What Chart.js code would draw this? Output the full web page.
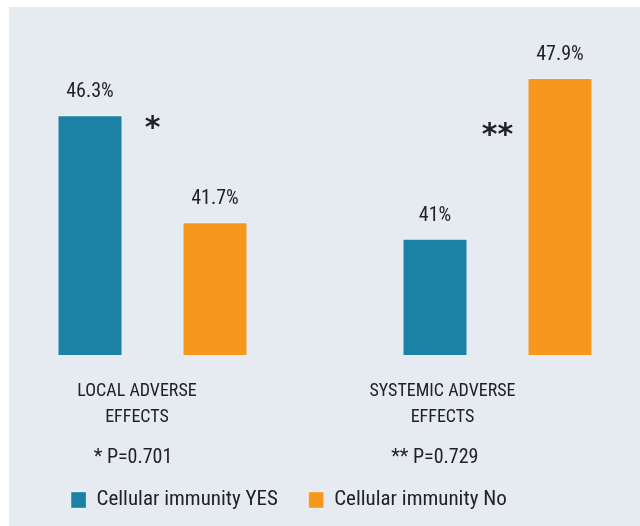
<!DOCTYPE html>
<html><head><meta charset="utf-8">
<script src="https://cdn.jsdelivr.net/npm/chart.js@4"></script>
<style>
html,body{margin:0;padding:0;background:#fff;width:640px;height:526px;overflow:hidden}
#wrap{position:absolute;left:9px;top:7px;width:631px;height:519px;background:#e6eaf1}
canvas{display:block}
</style></head><body>
<div id="wrap"><canvas id="c" width="631" height="519"></canvas></div>
<script>
const categories = [['LOCAL ADVERSE', 'EFFECTS'], ['SYSTEMIC ADVERSE', 'EFFECTS']];
const pValueNotes = ['* P=0.701', '** P=0.729'];
const significanceMarks = ['*', '**'];
const seriesNames = ['Cellular immunity YES', 'Cellular immunity No'];
const immunityYes = [46.3, 41];
const immunityNo = [41.7, 47.9];
const yMin = 36;
const yMax = 50;

const FONT = '"Roboto Condensed", "DejaVu Sans Condensed", sans-serif';
const TEXT = '#222222';

const annotate = {
  id: 'annotate',
  afterDraw(chart) {
    const ctx = chart.ctx;
    const xs = chart.scales.x, ys = chart.scales.y;
    const bottom = chart.chartArea.bottom;
    ctx.save();
    ctx.fillStyle = TEXT;
    ctx.textAlign = 'center';
    ctx.textBaseline = 'middle';
    ctx.font = '20px ' + FONT;
    chart.data.datasets.forEach((ds, di) => {
      chart.getDatasetMeta(di).data.forEach((bar, i) => {
        ctx.fillText(ds.data[i] + '%', bar.x, bar.y - 23);
      });
    });
    const catShift = [-15.5, -55];
    const pShift = [-19.5, -62.7];
    categories.forEach((lines, i) => {
      const cx = xs.getPixelForValue(i);
      ctx.font = '18px ' + FONT;
      lines.forEach((ln, k) => ctx.fillText(ln, cx + catShift[i], bottom + 36 + k * 26));
      ctx.font = '20px ' + FONT;
      ctx.fillText(pValueNotes[i], cx + pShift[i], bottom + 103);
    });
    const markAt = [46.0, 45.7];
    ctx.font = 'bold 30px "DejaVu Sans", sans-serif';
    ctx.textBaseline = 'alphabetic';
    significanceMarks.forEach((m, i) => {
      ctx.fillText(m, xs.getPixelForValue(i), ys.getPixelForValue(markAt[i]) + 15);
    });
    ctx.restore();
  }
};

function build() {
  new Chart(document.getElementById('c'), {
    type: 'bar',
    data: {
      labels: categories,
      datasets: [
        { label: seriesNames[0], data: immunityYes, base: yMin, backgroundColor: '#1b81a5', borderColor: 'rgba(255,255,255,0.3)', borderWidth: 1, categoryPercentage: 0.7246, barPercentage: 0.52, clip: false },
        { label: seriesNames[1], data: immunityNo, base: yMin, backgroundColor: '#f7981e', borderColor: 'rgba(255,255,255,0.3)', borderWidth: 1, categoryPercentage: 0.7246, barPercentage: 0.52, clip: false }
      ]
    },
    options: {
      responsive: false,
      devicePixelRatio: 1,
      animation: false,
      layout: { padding: { top: 22.2, right: 71.2, bottom: 5.5, left: 0 } },
      scales: {
        x: { type: 'category', offset: false, grid: { display: false }, border: { display: false }, ticks: { display: false },
             afterFit: s => { s.height = 103.7; } },
        y: { min: yMin, max: yMax, position: 'left', grid: { display: false }, border: { display: false }, ticks: { display: false },
             afterFit: s => { s.width = 143.5; } },
        y2: { min: yMin, max: yMax, position: 'right', grid: { display: false }, border: { display: false }, ticks: { display: false },
             afterFit: s => { s.width = 71.3; } }
      },
      plugins: {
        legend: {
          position: 'bottom', align: 'center',
          labels: { boxWidth: 15, boxHeight: 16, padding: 30.8, color: TEXT, font: { family: FONT, size: 21 } }
        },
        tooltip: { enabled: false }
      }
    },
    plugins: [annotate]
  });
}
Promise.all([
  document.fonts.load('21px "Roboto Condensed"'),
  document.fonts.load('bold 30px "DejaVu Sans"')
]).then(build, build);
</script>
</body></html>
